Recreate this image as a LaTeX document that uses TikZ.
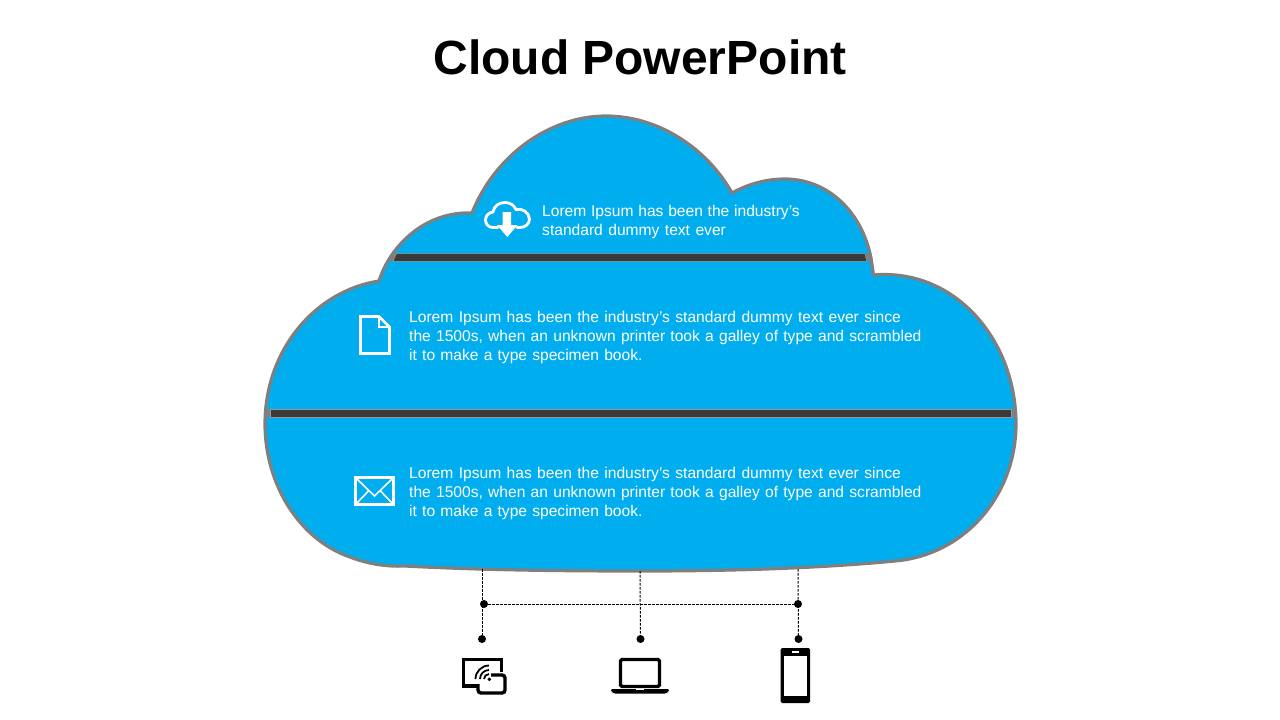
\documentclass[tikz,border=0pt]{standalone}
\usepackage{fontspec}
\setmainfont{Liberation Sans}
\definecolor{cloudblue}{HTML}{00AEEF}
\definecolor{cloudedge}{HTML}{7F7F7F}
\definecolor{bardark}{HTML}{3A3A3A}
\newcommand{\cloudpath}{(379,281) .. controls (390,246) and (425,211) .. (472,213)
  .. controls (495,155) and (550,116) .. (606,116) .. controls (660,116) and (708,150) .. (732,193)
  .. controls (750,183) and (768,179) .. (785,179) .. controls (828,179) and (862,212) .. (871,258)
  -- (873.5,275) .. controls (955,268) and (1016,340) .. (1016,424) .. controls (1016,495) and (965,555) .. (895,561)
  .. controls (800,570) and (700,571) .. (640,571) .. controls (560,571) and (480,570) .. (405,566)
  .. controls (385,567) and (365,563) .. (350,557) .. controls (300,540) and (265,485) .. (265,424)
  .. controls (265,350) and (315,291) .. (379,281) -- cycle}
\newcommand{\wordline}[2]{{\spaceskip=#1pt #2}}
\tikzset{
  bodytext/.style={anchor=north west,align=left,text=white,inner sep=0pt,font=\fontsize{15.6}{19}\selectfont},
  dotnode/.style={circle,fill=black,inner sep=0pt,minimum size=8pt},
  dashline/.style={black,line width=1pt,dash pattern=on 2.5pt off 1.5pt},
  iconline/.style={white,line width=2.8pt},
  deviceline/.style={black,line width=3.4pt},
  barline/.style={draw=gray!80,line width=0.5pt,fill=bardark}
}
\begin{document}
\begin{tikzpicture}[x=1pt,y=-1pt]
\useasboundingbox (0,0) rectangle (1280,720);
\node[font=\bfseries\fontsize{48}{48}\selectfont] (title) at (640,57) {Cloud PowerPoint};

% cloud
\fill[cloudblue] \cloudpath;
\begin{scope}
\clip \cloudpath;
\fill[cloudedge] (260,254) rectangle (1020,261);
\fill[cloudedge] (260,409) rectangle (1020,417);
\end{scope}
\draw[barline] (396.5,253.7) -- (865,253.7) -- (866.7,261.3) -- (393,261.3) -- cycle;
\draw[barline] (270.5,409) rectangle (1011,417);
\draw[cloudedge,line width=3.2pt,line join=miter] \cloudpath;

% texts
\node[bodytext] (topline) at (542,204.5) {\wordline{4.75}{Lorem Ipsum has been the industry\char39 s}\\\wordline{5.45}{standard dummy text ever}};
\node[bodytext] (midline) at (409,310.5) {\wordline{5.4}{Lorem Ipsum has been the industry\char39 s standard dummy text ever since}\\\wordline{5.25}{the 1500s, when an unknown printer took a galley of type and scrambled}\\\wordline{5.2}{it to make a type specimen book.}};
\node[bodytext] (lowline) at (409,466.5) {\wordline{5.4}{Lorem Ipsum has been the industry\char39 s standard dummy text ever since}\\\wordline{5.25}{the 1500s, when an unknown printer took a galley of type and scrambled}\\\wordline{5.2}{it to make a type specimen book.}};

% cloud download icon
\draw[iconline,line cap=round] (498,227.5) -- (493,227.5) .. controls (488,227.5) and (485.5,223.5) .. (485.5,220)
  .. controls (485.5,215.5) and (489,212.5) .. (493,212) .. controls (494,206) and (499,202.5) .. (505,202.5)
  .. controls (510,202.5) and (514,205) .. (516,209.5) .. controls (522,208) and (529,212) .. (529.5,219)
  .. controls (529.5,224) and (525,227.5) .. (520,227.5) -- (517,227.5);
\fill[white] (502.7,212) -- (511,212) -- (511,225) -- (517.5,225) -- (507.3,237) -- (497,225) -- (502.7,225) -- cycle;

% page icon
\draw[iconline,line join=miter] (360.5,316.5) -- (379,316.5) -- (389.5,327) -- (389.5,353.5) -- (360.5,353.5) -- cycle;
\draw[white,line width=2pt] (379,316.5) -- (379,327) -- (389.5,327);

% mail icon
\draw[iconline] (355.5,477.5) rectangle (393.5,504.5);
\draw[white,line width=1.6pt] (356,478) -- (374.5,496) -- (393,478);
\draw[white,line width=1.6pt] (356,504) -- (368.5,491);
\draw[white,line width=1.6pt] (393,504) -- (380.5,491);

% connectors
\coordinate (capl) at (482,569);
\coordinate (capm) at (640,571);
\coordinate (capr) at (798,569);
\node[dotnode] (hubl) at (484,604) {};
\node[dotnode] (hubr) at (798,604) {};
\node[dotnode] (endl) at (482,639) {};
\node[dotnode] (endm) at (640.5,639) {};
\node[dotnode] (endr) at (798.5,639) {};
\draw[dashline] (capl) -- (endl);
\draw[dashline] (capm) -- (endm);
\draw[dashline] (capr) -- (endr);
\draw[dashline] (hubl) -- (hubr);

% screen cast icon
\draw[deviceline] (477,686) -- (463.7,686) -- (463.7,659.2) -- (501.3,659.2) -- (501.3,672);
\draw[deviceline,rounded corners=3pt] (491,675) -- (505,675) -- (505,693) -- (478,693) -- (478,684);
\fill (489.3,679.3) circle (1.9pt);
\foreach \r in {5,9,13.5}
  \draw[black,line width=1.8pt] ({489-\r},679) .. controls ({489-\r},{679-.55*\r}) and ({489-.55*\r},{679-\r}) .. (489,{679-\r});

% laptop icon
\draw[deviceline,rounded corners=1.5pt] (620.5,659.5) rectangle (659.5,686.5);
\fill[rounded corners=1pt] (611,689) -- (669,689) -- (669,691) -- (666,693.5) -- (614,693.5) -- (611,691) -- cycle;
\fill[white] (636,689) rectangle (644,690.3);

% phone icon
\fill[rounded corners=1.5pt] (780.7,648) rectangle (810,703);
\fill[white] (784,656) rectangle (807,696);
\fill[white] (792,651.2) rectangle (799,653.2);
\end{tikzpicture}
\end{document}
